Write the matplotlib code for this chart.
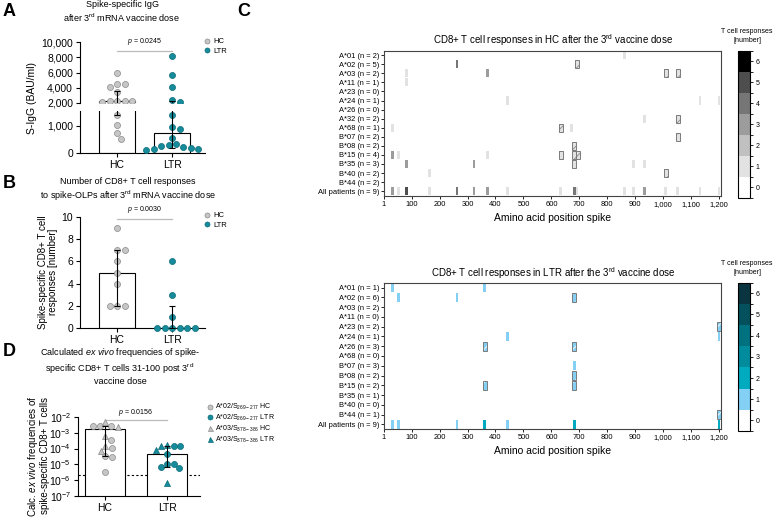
import numpy as np
import matplotlib
matplotlib.use('Agg')
import matplotlib.pyplot as plt
from matplotlib.colors import ListedColormap, BoundaryNorm
from matplotlib.cm import ScalarMappable
from matplotlib.lines import Line2D

plt.rcParams['font.family'] = ['Liberation Sans', 'DejaVu Sans']
plt.rcParams['mathtext.fontset'] = 'custom'
plt.rcParams['mathtext.rm'] = 'Liberation Sans'
plt.rcParams['mathtext.it'] = 'Liberation Sans:italic'
plt.rcParams['axes.linewidth'] = 0.8
plt.rcParams['hatch.linewidth'] = 0.6

# ---- data ----
groups = ['HC', 'LTR']

# A: spike IgG (BAU/ml)
igg_hc = [5900, 4500, 4500, 4100, 3400, 2300, 2200, 2200, 2200, 2100, 1400, 1050, 750, 500]
igg_ltr = [8100, 5700, 4100, 2400, 2100, 1400, 950, 880, 570, 330, 290, 250, 220, 190, 160, 140, 120]
igg_bar = [2200, 740]
igg_err = [(1400, 3600), (200, 2200)]

# B: number of CD8+ T cell responses
resp_hc = [9, 7, 7, 6, 5, 4, 2, 2, 2]
resp_ltr = [6, 3, 1, 0, 0, 0, 0, 0, 0]
resp_bar = [5, 0]
resp_err = [(2, 7), (0, 2)]

# D: ex vivo frequencies
freq_hc_a02 = [2.8e-3, 2.6e-3, 2.7e-3, 3.6e-4, 1.1e-4, 3.4e-5, 3.0e-5, 3.5e-6]
freq_hc_a03 = [4.5e-3, 2.4e-3, 6.0e-4, 1.5e-4, 7.5e-5]
freq_ltr_a02 = [1.5e-4, 1.4e-4, 4.5e-5, 1.1e-5, 1.0e-5, 7e-6, 6e-6]
freq_ltr_a03 = [1.6e-4, 1.5e-4, 8e-5, 6.5e-7]
freq_bar = [1.8e-3, 4.4e-5]
freq_err = [(3.4e-5, 2.6e-3), (6.5e-6, 1.5e-4)]
freq_cutoff = 2.2e-6

# C: heatmaps (row, aa position, number of responses)
hc_rows = ['A*01 (n = 2)', 'A*02 (n = 5)', 'A*03 (n = 2)', 'A*11 (n = 1)', 'A*23 (n = 0)',
           'A*24 (n = 1)', 'A*26 (n = 0)', 'A*32 (n = 2)', 'A*68 (n = 1)', 'B*07 (n = 2)',
           'B*08 (n = 2)', 'B*15 (n = 4)', 'B*35 (n = 3)', 'B*40 (n = 2)', 'B*44 (n = 2)',
           'All patients (n = 9)']
hc_cells = [(0, 861, 1), (1, 262, 4), (2, 82, 1), (2, 372, 3), (3, 82, 1),
            (5, 442, 1), (5, 1132, 1), (5, 1200, 1), (7, 932, 1), (8, 32, 1), (8, 671, 1),
            (10, 682, 2), (11, 32, 3), (11, 53, 1), (11, 372, 1), (11, 682, 2),
            (12, 82, 3), (12, 323, 3), (12, 682, 2), (12, 893, 1), (12, 932, 1), (13, 163, 1),
            (15, 32, 3), (15, 53, 1), (15, 82, 5), (15, 163, 1), (15, 262, 4), (15, 323, 3),
            (15, 372, 3), (15, 442, 1), (15, 633, 1), (15, 682, 4), (15, 692, 1), (15, 861, 1),
            (15, 893, 1), (15, 932, 3), (15, 1009, 1), (15, 1052, 1), (15, 1132, 1), (15, 1200, 1)]
hc_hatched = [(1, 692), (2, 1009), (2, 1052), (7, 1052), (8, 633), (9, 1052), (10, 682),
              (11, 633), (11, 682), (11, 694), (12, 682), (13, 1009)]

ltr_rows = ['A*01 (n = 1)', 'A*02 (n = 6)', 'A*03 (n = 2)', 'A*11 (n = 0)', 'A*23 (n = 2)',
            'A*24 (n = 1)', 'A*26 (n = 3)', 'A*68 (n = 0)', 'B*07 (n = 3)', 'B*08 (n = 2)',
            'B*15 (n = 2)', 'B*35 (n = 1)', 'B*40 (n = 0)', 'B*44 (n = 1)', 'All patients (n = 9)']
ltr_cells = [(0, 32, 1), (0, 362, 1), (1, 53, 1), (1, 262, 1), (1, 682, 1), (4, 1200, 1),
             (5, 442, 1), (5, 1200, 1), (6, 362, 1), (6, 682, 1), (8, 682, 1), (9, 682, 1),
             (10, 362, 1), (10, 682, 1), (13, 1200, 1),
             (14, 32, 1), (14, 53, 1), (14, 262, 1), (14, 362, 2), (14, 442, 1), (14, 682, 2),
             (14, 1200, 2)]
ltr_hatched = [(1, 682), (4, 1200), (6, 362), (6, 682), (9, 682), (10, 362), (10, 682), (13, 1200)]

gray_levels = ['#ffffff', '#e2e2e2', '#c0c0c0', '#9c9c9c', '#767676', '#4e4e4e', '#000000']
teal_levels = ['#ffffff', '#84d0f4', '#00aabf', '#008c9c', '#00717f', '#04505c', '#0a3540']
aa_ticks = [1, 100, 200, 300, 400, 500, 600, 700, 800, 900, 1000, 1100, 1200]

HC_FACE, HC_EDGE = '#c6c6c6', '#8a8a8a'
LTR_FACE, LTR_EDGE = '#158b9b', '#0b6b78'

W, H = 777, 524
fig = plt.figure(figsize=(W / 100, H / 100), dpi=100)


def box(l, t, r, b):
    return fig.add_axes([l / W, 1 - b / H, (r - l) / W, (b - t) / H])


def ftext(x, y, s, **kw):
    fig.text(x / W, 1 - y / H, s, **kw)


def swarm(ax_for, vals, diam):
    # pixel x offsets so the markers sit side by side
    ys = [ax_for(v).transData.transform((0, v))[1] for v in vals]
    placed, offs = [], np.zeros(len(vals))
    for i in np.argsort(vals)[::-1]:
        k = 0
        while True:
            c = (k + 1) // 2 * 0.5 * (1 if k % 2 else -1)
            if all(np.hypot(c - px, ys[i] - py) >= diam for px, py in placed):
                break
            k += 1
        offs[i] = c
        placed.append((c, ys[i]))
    return offs


def style_ax(ax):
    for s in ['top', 'right']:
        ax.spines[s].set_visible(False)
    ax.tick_params(labelsize=7.5, length=3, width=0.8, pad=2)


def leg(ax, handles, labels, x, y, fs=5.5, sp=0.3):
    ax.legend(handles, labels, loc='upper left', bbox_to_anchor=(x / W, 1 - y / H),
              bbox_transform=fig.transFigure, frameon=False, fontsize=fs, handlelength=0.8,
              handletextpad=0.4, labelspacing=sp, borderpad=0, borderaxespad=0)


def dot(face, edge, m='o'):
    return Line2D([], [], marker=m, ls='none', markerfacecolor=face, markeredgecolor=edge,
                  markersize=3.6, mew=0.5)


# ---------------- A ----------------
axA1 = box(80, 42, 205, 103)
axA2 = box(80, 111, 205, 153)
for ax in (axA1, axA2):
    style_ax(ax)
    ax.set_xlim(-0.673, 1.6)
    ax.bar([0, 1], igg_bar, width=0.65, color='white', edgecolor='black', lw=0.8, zorder=1)
axA1.set_ylim(2000, 10000)
axA2.set_ylim(0, 1550)
axA1.spines['bottom'].set_visible(False)
axA1.set_xticks([])
axA1.set_yticks([2000, 4000, 6000, 8000, 10000])
axA1.set_yticklabels(['{:,}'.format(v) for v in [2000, 4000, 6000, 8000, 10000]])
axA2.set_yticks([0, 1000])
axA2.set_yticklabels(['0', '1,000'])
axA2.spines['bottom'].set_linestyle((0, (1, 1)))
axA2.set_xticks([0, 1])
axA2.set_xticklabels(groups)

pxu = axA2.transData.transform((1, 0))[0] - axA2.transData.transform((0, 0))[0]
pick = lambda v: axA1 if v >= 2000 else axA2
for i, (vals, fc, ec) in enumerate([(igg_hc, HC_FACE, HC_EDGE), (igg_ltr, LTR_FACE, LTR_EDGE)]):
    xo = i + swarm(pick, vals, 7.5) / pxu
    lo, hi = igg_err[i]
    for ax in (axA1, axA2):
        ax.scatter(xo, vals, s=19, facecolor=fc, edgecolor=ec, lw=0.5, zorder=3)
        ax.errorbar(i, igg_bar[i], yerr=[[igg_bar[i] - lo], [hi - igg_bar[i]]], fmt='none',
                    ecolor='black', elinewidth=0.8, capsize=2.5, capthick=0.8, zorder=4)
axA1.plot([0, 1], [8800, 8800], color='#bbbbbb', lw=0.9, clip_on=False)
axA1.text(0.5, 9300, '$p$ = 0.0245', ha='center', va='bottom', fontsize=5)
leg(axA1, [dot(HC_FACE, HC_EDGE), dot(LTR_FACE, LTR_EDGE)], groups, 204, 38)
ftext(32, 98, 'S-IgG (BAU/ml)', rotation=90, fontsize=7.5, ha='center', va='center')
ftext(122, 12, 'Spike-specific IgG\nafter 3$^{\\rm rd}$ mRNA vaccine dose', fontsize=6.5,
      ha='center', va='center', linespacing=1.3)
ftext(9, 12, 'A', fontsize=13, fontweight='bold', ha='center', va='center')

# ---------------- B ----------------
axB = box(80, 217, 205, 328)
style_ax(axB)
axB.set_xlim(-0.673, 1.6)
axB.set_ylim(0, 10)
axB.set_yticks([0, 2, 4, 6, 8, 10])
axB.set_xticks([0, 1])
axB.set_xticklabels(groups)
axB.bar([0, 1], resp_bar, width=0.65, color='white', edgecolor='black', lw=0.8, zorder=1)
for i, (vals, fc, ec) in enumerate([(resp_hc, HC_FACE, HC_EDGE), (resp_ltr, LTR_FACE, LTR_EDGE)]):
    xo = i + swarm(lambda v: axB, vals, 7.5) / pxu
    axB.scatter(xo, vals, s=19, facecolor=fc, edgecolor=ec, lw=0.5, zorder=3, clip_on=False)
    lo, hi = resp_err[i]
    axB.errorbar(i, resp_bar[i], yerr=[[resp_bar[i] - lo], [hi - resp_bar[i]]], fmt='none',
                 ecolor='black', elinewidth=0.8, capsize=2.5, capthick=0.8, zorder=4)
axB.plot([0, 1], [9.8, 9.8], color='#bbbbbb', lw=0.9, clip_on=False)
axB.text(0.5, 10.2, '$p$ = 0.0030', ha='center', va='bottom', fontsize=5)
leg(axB, [dot(HC_FACE, HC_EDGE), dot(LTR_FACE, LTR_EDGE)], groups, 204, 212)
ftext(48, 272, 'Spike-specific CD8+ T cell\nresponses [number]', rotation=90, fontsize=7,
      ha='center', va='center', linespacing=1.1)
ftext(128, 190, 'Number of CD8+ T cell responses\nto spike-OLPs after 3$^{\\rm rd}$ mRNA vaccine dose',
      fontsize=6.5, ha='center', va='center', linespacing=1.3)
ftext(9, 184, 'B', fontsize=13, fontweight='bold', ha='center', va='center')

# ---------------- D ----------------
axD = box(78, 417, 200, 496)
style_ax(axD)
axD.set_yscale('log')
axD.set_xlim(-0.435, 1.53)
axD.set_ylim(1e-7, 1e-2)
axD.set_yticks([1e-7, 1e-6, 1e-5, 1e-4, 1e-3, 1e-2])
axD.minorticks_off()
axD.set_xticks([0, 1])
axD.set_xticklabels(groups)
axD.axhline(freq_cutoff, color='black', lw=0.8, ls=(0, (2, 2)), zorder=0)
axD.bar([0, 1], freq_bar, width=0.65, color='white', edgecolor='black', lw=0.8, zorder=1)
pxd = axD.transData.transform((1, 1e-3))[0] - axD.transData.transform((0, 1e-3))[0]
sets = [(freq_hc_a02, freq_hc_a03, HC_FACE, HC_EDGE), (freq_ltr_a02, freq_ltr_a03, LTR_FACE, LTR_EDGE)]
for i, (a02, a03, fc, ec) in enumerate(sets):
    allv = np.array(a02 + a03)
    xo = i + swarm(lambda v: axD, allv, 6.5) / pxd
    n = len(a02)
    axD.scatter(xo[:n], a02, s=19, marker='o', facecolor=fc, edgecolor=ec, lw=0.5, zorder=3)
    axD.scatter(xo[n:], a03, s=19, marker='^', facecolor=fc, edgecolor=ec, lw=0.5, zorder=3)
    lo, hi = freq_err[i]
    axD.errorbar(i, freq_bar[i], yerr=[[freq_bar[i] - lo], [hi - freq_bar[i]]], fmt='none',
                 ecolor='black', elinewidth=0.8, capsize=2.5, capthick=0.8, zorder=4)
axD.plot([0, 1], [6.7e-3, 6.7e-3], color='#bbbbbb', lw=0.9, clip_on=False)
axD.text(0.5, 8.5e-3, '$p$ = 0.0156', ha='center', va='bottom', fontsize=5)
leg(axD, [dot(HC_FACE, HC_EDGE), dot(LTR_FACE, LTR_EDGE), dot(HC_FACE, HC_EDGE, '^'),
          dot(LTR_FACE, LTR_EDGE, '^')],
    ['A*02/S$_{\\rm 269-277}$ HC', 'A*02/S$_{\\rm 269-277}$ LTR',
     'A*03/S$_{\\rm 378-386}$ HC', 'A*03/S$_{\\rm 378-386}$ LTR'], 207, 402, fs=5, sp=0.1)
ftext(38, 456, 'Calc. $\\it{ex\\ vivo}$ frequencies of\nspike-specific CD8+ T cells', rotation=90,
      fontsize=7, ha='center', va='center', linespacing=1.1)
ftext(120, 366, 'Calculated $\\it{ex\\ vivo}$ frequencies of spike-\nspecific CD8+ T cells 31-100 post 3$^{\\rm rd}$\nvaccine dose',
      fontsize=6.5, ha='center', va='center', linespacing=1.25)
ftext(9, 352, 'D', fontsize=13, fontweight='bold', ha='center', va='center')


# ---------------- C ----------------
def heatmap(ax, cax, rows, cells, hatched, levels, hatch_face, hatch_col):
    cmap = ListedColormap(levels)
    norm = BoundaryNorm(np.arange(-0.5, 7.5), cmap.N)
    for r, pos, v in cells:
        ax.bar(pos, 0.9, bottom=r - 0.45, width=10, color=cmap(norm(v)), lw=0, zorder=1)
    for r, pos in hatched:
        ax.bar(pos, 0.9, bottom=r - 0.45, width=14, color=hatch_face, edgecolor=hatch_col,
               hatch='///', lw=0, zorder=2)
        ax.bar(pos, 0.9, bottom=r - 0.45, width=14, fill=False, edgecolor='#7a7a7a', lw=0.7, zorder=3)
    ax.set_xlim(1, 1207)
    ax.set_ylim(len(rows) - 0.5, -0.5)
    ax.set_yticks(range(len(rows)))
    ax.set_yticklabels(rows)
    ax.set_xticks(aa_ticks)
    ax.set_xticklabels(['{:,}'.format(v) for v in aa_ticks])
    ax.tick_params(labelsize=5.4, length=2, width=0.6, pad=1.5)
    for s in ax.spines.values():
        s.set_color('#444444')
    cb = fig.colorbar(ScalarMappable(norm=norm, cmap=cmap), cax=cax, ticks=range(7))
    cb.ax.tick_params(labelsize=5, length=2, width=0.6, pad=2)
    cb.outline.set_linewidth(0.8)


axC1 = box(384, 50.7, 721, 195.7)
caxC1 = box(738, 50.7, 750, 198)
heatmap(axC1, caxC1, hc_rows, hc_cells, hc_hatched, gray_levels, gray_levels[1], '#8a8a8a')
axC2 = box(384, 282.7, 721, 429.3)
caxC2 = box(738, 282.7, 750, 431)
heatmap(axC2, caxC2, ltr_rows, ltr_cells, ltr_hatched, teal_levels, teal_levels[1], 'white')

ftext(553, 40, 'CD8+ T cell responses in HC after the 3$^{\\rm rd}$ vaccine dose', fontsize=7,
      ha='center', va='center')
ftext(553, 273, 'CD8+ T cell responses in LTR after the 3$^{\\rm rd}$ vaccine dose', fontsize=7,
      ha='center', va='center')
ftext(553, 218, 'Amino acid position spike', fontsize=7.5, ha='center', va='center')
ftext(553, 451.5, 'Amino acid position spike', fontsize=7.5, ha='center', va='center')
ftext(747, 36, 'T cell responses\n[number]', fontsize=5, ha='center', va='center', linespacing=1.3)
ftext(747, 268, 'T cell responses\n[number]', fontsize=5, ha='center', va='center', linespacing=1.3)
ftext(244, 12, 'C', fontsize=13, fontweight='bold', ha='center', va='center')

fig.savefig('out.png', dpi=100)
